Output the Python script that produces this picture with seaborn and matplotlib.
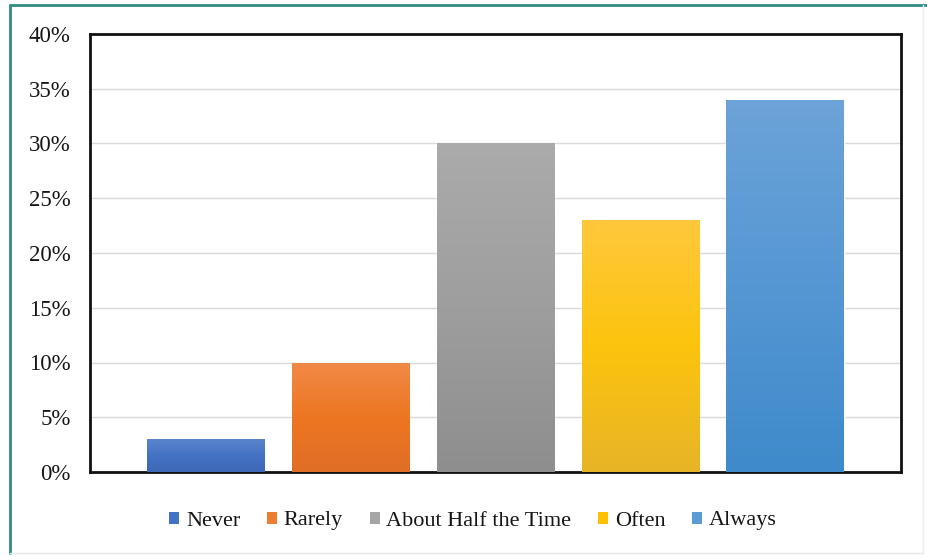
import numpy as np
import pandas as pd
import matplotlib
matplotlib.use("Agg")
import matplotlib.pyplot as plt
from matplotlib.colors import LinearSegmentedColormap
from matplotlib.patches import Patch
from matplotlib.lines import Line2D
import seaborn as sns

categories = ["Never", "Rarely", "About Half the Time", "Often", "Always"]
shares = [3, 10, 30, 23, 34]
yticks = [0, 5, 10, 15, 20, 25, 30, 35, 40]
base_colors = ["#4472C4", "#ED7D31", "#A5A5A5", "#FFC000", "#5B9BD5"]
# top / middle / bottom shades for the vertical gradient of each bar
grad_stops = [
    ["#5A84CC", "#4472C4", "#3E68B8"],
    ["#F08A48", "#ED7622", "#E06E26"],
    ["#ABABAB", "#9E9E9E", "#8E8E8E"],
    ["#FFC83C", "#FCC40D", "#E8B428"],
    ["#6CA3D8", "#5597D3", "#3F8ACB"],
]

sns.set_theme(style="white")
plt.rcParams["font.family"] = ["Liberation Serif", "DejaVu Serif"]

df = pd.DataFrame({"category": categories, "share": shares})

fig = plt.figure(figsize=(9.28, 5.57), dpi=100)
fig.patch.set_facecolor("white")
ax = fig.add_axes([90 / 928, 1 - 472 / 557, 811 / 928, 438 / 557])

sns.barplot(data=df, x="category", y="share", hue="category",
            palette=base_colors, width=0.81, legend=False, ax=ax,
            saturation=1, zorder=2)

ax.set_xlim(-0.8, 4.8)
ax.set_ylim(0, 40)
ax.set_yticks(yticks)
ax.set_yticklabels([f"{t}%" for t in yticks], fontsize=16.5, color="#151515")
ax.tick_params(axis="y", pad=14, length=0)
ax.set_xticks([])
ax.set_xlabel("")
ax.set_ylabel("")
ax.yaxis.grid(True, color="#DADADA", linewidth=1.0, zorder=0)
ax.set_axisbelow(True)
for sp in ax.spines.values():
    sp.set_visible(True)
    sp.set_color("#111111")
    sp.set_linewidth(2.0)

# overlay vertical gradients clipped to each bar
for bar, stops in zip(ax.patches, grad_stops):
    x0, y0 = bar.get_x(), bar.get_y()
    w, h = bar.get_width(), bar.get_height()
    cmap = LinearSegmentedColormap.from_list("g", stops[::-1])
    grad = np.linspace(0, 1, 256).reshape(-1, 1)
    im = ax.imshow(grad, cmap=cmap, aspect="auto", origin="lower",
                   extent=[x0, x0 + w, y0, y0 + h], zorder=3)
    im.set_clip_path(bar)
ax.set_xlim(-0.8, 4.8)
ax.set_ylim(0, 40)

handles = [Patch(facecolor=c, edgecolor="none") for c in base_colors]
fig.legend(handles, categories, loc="center", bbox_to_anchor=(473 / 928, 1 - 521 / 557),
           ncol=5, frameon=False, fontsize=16, handlelength=0.45, handleheight=0.45,
           handletextpad=0.3, columnspacing=1.2, labelcolor="#151515")

# outer frame of the figure
fig.add_artist(Line2D([10 / 928, 10 / 928], [0.007, 1 - 5 / 557], color="#2E8B86",
                      linewidth=2.0, transform=fig.transFigure))
fig.add_artist(Line2D([10 / 928, 1.0], [1 - 5 / 557, 1 - 5 / 557], color="#2E8B86",
                      linewidth=2.0, transform=fig.transFigure))
fig.add_artist(Line2D([10 / 928, 923 / 928], [1 - 553 / 557, 1 - 553 / 557], color="#E4E8E8",
                      linewidth=1.0, transform=fig.transFigure))
fig.add_artist(Line2D([923 / 928, 923 / 928], [1 - 553 / 557, 1 - 5 / 557], color="#EDEFEF",
                      linewidth=1.0, transform=fig.transFigure))

fig.savefig("out.png", dpi=100, facecolor="white")
